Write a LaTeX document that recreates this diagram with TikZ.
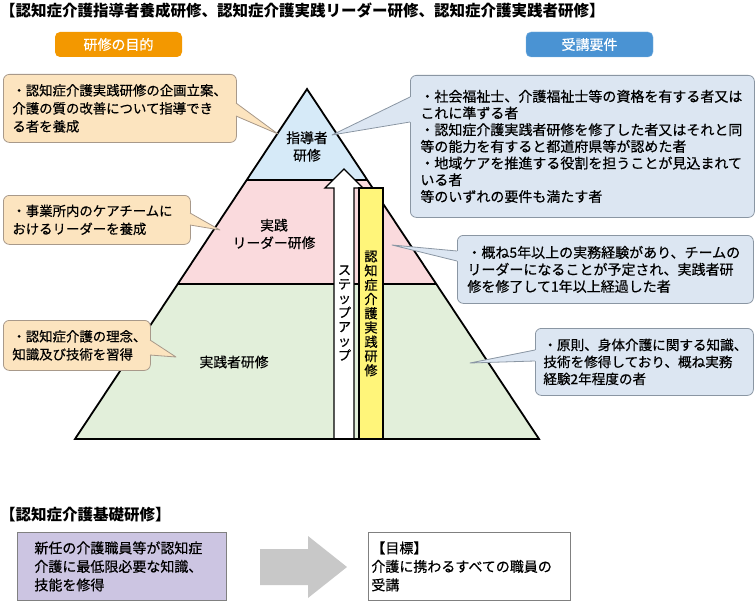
\documentclass[tikz,border=0pt]{standalone}
\usepackage{fontspec}
\setmainfont{Noto Sans CJK JP}
\newfontfamily\jpm[FakeBold=0.5]{Noto Sans CJK JP}
\definecolor{pyBlue}{HTML}{D6EAF8}
\definecolor{pyPink}{HTML}{FADADD}
\definecolor{pyGreen}{HTML}{E2EFDA}
\definecolor{barYellow}{HTML}{FFF57A}
\definecolor{lFill}{HTML}{FCE4BF}
\definecolor{lDraw}{HTML}{A8998A}
\definecolor{rFill}{HTML}{DCE6F2}
\definecolor{rDraw}{HTML}{8A96A3}
\definecolor{pillOrange}{HTML}{F39800}
\definecolor{pillBlue}{HTML}{4A93D3}
\definecolor{purpleFill}{HTML}{CCC5E2}
\definecolor{boxDraw}{HTML}{808080}
\definecolor{arrowGray}{HTML}{C8C8C8}
\newcommand\calloutptr[6]{%
  \fill[#1] ([xshift=#6]#3) -- (#3) -- (#4) -- (#5) -- ([xshift=#6]#5) -- cycle;
  \draw[#2, line width=0.8pt, line join=round] (#3) -- (#4) -- (#5);}
\tikzset{
  pyline/.style={line width=1.8pt, line join=miter},
  lbox/.style={draw=lDraw, fill=lFill, line width=0.8pt, rounded corners=6pt,
    anchor=north west, align=left, inner xsep=9pt, inner ysep=0pt,
    font=\jpm\fontsize{13.4}{18}\selectfont},
  rbox/.style={draw=rDraw, fill=rFill, line width=0.8pt, rounded corners=6pt,
    anchor=north west, align=left, inner xsep=10pt, inner ysep=0pt,
    font=\jpm\fontsize{14}{17}\selectfont},
  pill/.style={rounded corners=5pt, minimum width=127pt, minimum height=25pt,
    inner sep=0pt, text=white, font=\jpm\fontsize{14}{16}\selectfont},
  pytext/.style={align=center, inner sep=0pt, font=\jpm\fontsize{13.8}{17.5}\selectfont},
  vtext/.style={align=center, inner sep=0pt, font=\jpm\fontsize{13.2}{14.25}\selectfont},
  bbox/.style={draw=boxDraw, line width=0.8pt, anchor=north west, align=left,
    inner ysep=0pt, minimum height=68pt, font=\jpm\fontsize{14}{18.5}\selectfont},
  titletext/.style={anchor=west, inner sep=0pt, font=\bfseries\fontsize{15.5}{18}\selectfont},
}
\begin{document}
\begin{tikzpicture}[x=1pt,y=-1pt]
\useasboundingbox (0,0) rectangle (755,602);
% title
\node[titletext] (title) at (0,11) {【認知症介護指導者養成研修、認知症介護実践リーダー研修、認知症介護実践者研修】};
% pills
\node[pill, fill=pillOrange] (goal) at (118.5,44.5) {研修の目的};
\node[pill, fill=pillBlue, draw=pillBlue!70!white] (req) at (589.5,44.5) {受講要件};
% pyramid
\coordinate (A) at (307,89);
\coordinate (BL) at (75,439);
\coordinate (BR) at (539,439);
\coordinate (M1L) at (246.7,180);
\coordinate (M1R) at (367.3,180);
\coordinate (M2L) at (177.7,284);
\coordinate (M2R) at (436.3,284);
\fill[pyBlue] (A) -- (M1R) -- (M1L) -- cycle;
\fill[pyPink] (M1L) -- (M1R) -- (M2R) -- (M2L) -- cycle;
\fill[pyGreen] (M2L) -- (M2R) -- (BR) -- (BL) -- cycle;
\draw[pyline] (M1L) -- (M1R) (M2L) -- (M2R);
\draw[pyline] (A) -- (BR) -- (BL) -- cycle;
% step-up arrow
\draw[fill=white, line width=1.4pt, line join=miter]
  (334,439) -- (334,188) -- (325,188) -- (344,169) -- (363,188) -- (354,188) -- (354,439) -- cycle;
\node[vtext] (stepup) at (344.5,313) {ス\\テ\\ッ\\プ\\ア\\ッ\\プ};
% yellow bar
\node[draw, fill=barYellow, line width=1.4pt, minimum width=24pt, minimum height=251pt,
  inner sep=0pt, vtext] (bar) at (371,313.5) {認\\知\\症\\介\\護\\実\\践\\研\\修};
\draw[line width=1.8pt] (BL) -- (BR);
% pyramid labels
\node[pytext] (t1) at (307,146.5) {指導者\\研修};
\node[pytext] (t2) at (274,234) {実践\\リーダー研修};
\node[pytext] (t3) at (234,362) {実践者研修};
% left callouts
\node[lbox, text width=215pt, minimum height=68pt] (L1) at (3,74)
  {・認知症介護実践研修の企画立案、\\介護の質の改善について指導でき\\る者を養成};
\coordinate (L1a) at (236,103); \coordinate (L1t) at (278,134); \coordinate (L1b) at (236,116);
\calloutptr{lFill}{lDraw}{L1a}{L1t}{L1b}{-2pt}
\node[lbox, text width=169pt, minimum height=49pt] (L2) at (3,195)
  {・事業所内のケアチームに\\おけるリーダーを養成};
\coordinate (L2a) at (190,213); \coordinate (L2t) at (220,230); \coordinate (L2b) at (190,225);
\calloutptr{lFill}{lDraw}{L2a}{L2t}{L2b}{-2pt}
\node[lbox, text width=129pt, minimum height=50pt] (L3) at (3,320)
  {・認知症介護の理念、\\知識及び技術を習得};
\coordinate (L3a) at (150,340); \coordinate (L3t) at (176,357); \coordinate (L3b) at (150,355);
\calloutptr{lFill}{lDraw}{L3a}{L3t}{L3b}{-2pt}
% right callouts
\node[rbox, text width=324pt, minimum height=142pt, font=\jpm\fontsize{14}{16.7}\selectfont] (R1) at (410,75)
  {・社会福祉士、介護福祉士等の資格を有する者又は\\これに準ずる者\\・認知症介護実践者研修を修了した者又はそれと同\\等の能力を有すると都道府県等が認めた者\\・地域ケアを推進する役割を担うことが見込まれて\\いる者\\等のいずれの要件も満たす者};
\coordinate (R1a) at (410,97); \coordinate (R1t) at (332,135); \coordinate (R1b) at (410,122);
\calloutptr{rFill}{rDraw}{R1a}{R1t}{R1b}{2pt}
\node[rbox, text width=276pt, minimum height=68pt] (R2) at (457,235)
  {・概ね5年以上の実務経験があり、チームの\\リーダーになることが予定され、実践者研\\修を修了して1年以上経過した者};
\coordinate (R2a) at (457,251); \coordinate (R2t) at (392,245); \coordinate (R2b) at (457,261);
\calloutptr{rFill}{rDraw}{R2a}{R2t}{R2b}{2pt}
\node[rbox, inner xsep=8pt, text width=202pt, minimum height=67pt, font=\jpm\fontsize{13.6}{17}\selectfont] (R3) at (535,328)
  {・原則、身体介護に関する知識、\\技術を修得しており、概ね実務\\経験2年程度の者};
\coordinate (R3a) at (535,350); \coordinate (R3t) at (470,363); \coordinate (R3b) at (535,361);
\calloutptr{rFill}{rDraw}{R3a}{R3t}{R3b}{2pt}
% bottom section
\node[titletext] (btitle) at (0,515) {【認知症介護基礎研修】};
\node[bbox, fill=purpleFill, inner xsep=17pt, text width=175pt] (basic) at (17,532)
  {新任の介護職員等が認知症\\介護に最低限必要な知識、\\技能を修得};
\node[bbox, fill=white, inner xsep=3pt, text width=196pt] (target) at (368,532)
  {【目標】\\介護に携わるすべての職員の\\受講};
\fill[arrowGray] (260,549) -- (308,549) -- (308,536) -- (347,567) -- (308,598) -- (308,585) -- (260,585) -- cycle;
\end{tikzpicture}
\end{document}
